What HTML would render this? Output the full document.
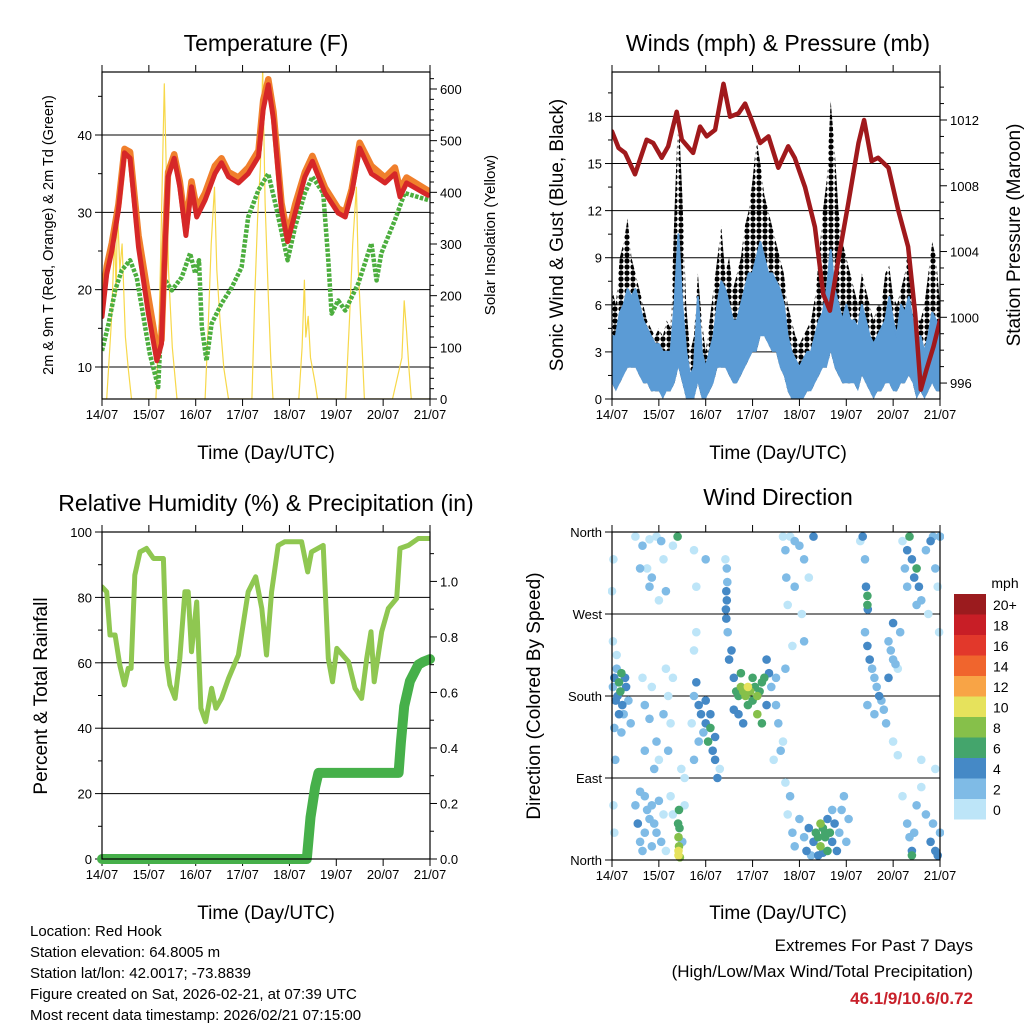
<!DOCTYPE html>
<html><head><meta charset="utf-8"><title>Weather station charts</title>
<style>
html,body{margin:0;padding:0;background:#fff;}
svg{display:block;font-family:"Liberation Sans",Arial,sans-serif;}
</style></head>
<body>
<svg id="c" width="1024" height="1024" viewBox="0 0 1024 1024" xmlns="http://www.w3.org/2000/svg">
<defs>
<clipPath id="cp1"><rect x="102" y="72" width="328" height="327"/></clipPath>
<clipPath id="cp2"><rect x="612" y="72" width="328" height="327"/></clipPath>
<clipPath id="cp3"><rect x="102" y="532" width="328" height="327"/></clipPath>
<clipPath id="cp4"><rect x="608" y="528" width="336" height="336"/></clipPath>
<pattern id="gustdots" x="0" y="0" width="6" height="6" patternUnits="userSpaceOnUse">
<circle cx="3" cy="3" r="2.6" fill="#000"/>
</pattern>
</defs>
<rect x="0" y="0" width="1024" height="1024" fill="#fff"/>
<text x="266" y="51" font-size="23" text-anchor="middle">Temperature (F)</text>
<text x="778" y="51" font-size="23" text-anchor="middle">Winds (mph) &amp; Pressure (mb)</text>
<text x="266" y="511" font-size="23" text-anchor="middle">Relative Humidity (%) &amp; Precipitation (in)</text>
<text x="778" y="505" font-size="23" text-anchor="middle">Wind Direction</text>
<text x="266" y="459" font-size="19" text-anchor="middle">Time (Day/UTC)</text>
<text x="778" y="459" font-size="19" text-anchor="middle">Time (Day/UTC)</text>
<text x="266" y="919" font-size="19" text-anchor="middle">Time (Day/UTC)</text>
<text x="778" y="919" font-size="19" text-anchor="middle">Time (Day/UTC)</text>
<text transform="translate(53,235) rotate(-90)" font-size="14.5" text-anchor="middle">2m &amp; 9m T (Red, Orange) &amp; 2m Td (Green)</text>
<text transform="translate(495,235) rotate(-90)" font-size="15" text-anchor="middle">Solar Insolation (Yellow)</text>
<text transform="translate(563,235) rotate(-90)" font-size="19" text-anchor="middle">Sonic Wind &amp; Gust (Blue, Black)</text>
<text transform="translate(1020,235) rotate(-90)" font-size="19" text-anchor="middle">Station Pressure (Maroon)</text>
<text transform="translate(47,696) rotate(-90)" font-size="19" text-anchor="middle">Percent &amp; Total Rainfall</text>
<text transform="translate(540,696) rotate(-90)" font-size="19" text-anchor="middle">Direction (Colored By Speed)</text>
<g font-size="15">
<text x="30" y="936">Location: Red Hook</text>
<text x="30" y="957">Station elevation: 64.8005 m</text>
<text x="30" y="978">Station lat/lon: 42.0017; -73.8839</text>
<text x="30" y="999">Figure created on Sat, 2026-02-21, at 07:39 UTC</text>
<text x="30" y="1020">Most recent data timestamp: 2026/02/21 07:15:00</text>
</g>
<text x="973" y="951" font-size="17" text-anchor="end">Extremes For Past 7 Days</text>
<text x="973" y="977" font-size="17" text-anchor="end">(High/Low/Max Wind/Total Precipitation)</text>
<text x="973" y="1004" font-size="17" font-weight="bold" fill="#c8202a" text-anchor="end">46.1/9/10.6/0.72</text>
<text x="1005" y="588" font-size="14" text-anchor="middle">mph</text>
</svg>
<script>
// ---------- data ----------
const dayLabels = ["14/07","15/07","16/07","17/07","18/07","19/07","20/07","21/07"];
const tempTime = [0,0.1,0.21,0.35,0.48,0.6,0.78,0.99,1.17,1.27,1.35,1.41,1.54,1.66,1.79,1.91,2.02,2.2,2.41,2.55,2.7,2.91,3.12,3.34,3.44,3.55,3.66,3.83,3.96,4.12,4.33,4.49,4.76,5.04,5.19,5.33,5.5,5.75,6.04,6.25,6.36,6.5,6.96];
const temp2m = [16.5,22,25,30.3,37.7,37,25.5,16.9,10.8,13,26,34.6,37,33.3,27,33.3,29.4,31.6,35,36.4,34.6,33.8,35,37.2,43.3,46.5,42,30.3,26.2,29.9,34.6,36.6,32.5,29.9,29.4,32.5,38.3,35,33.8,35,32,33.8,32.2];
const temp9m = [18,23,26,31,38.2,37.8,27,19,12.5,13.5,27,35.2,37.5,34,28,34,30.5,32.5,36,37,35.2,34.5,35.8,38,44.5,47.2,43,31.2,27,31,35.2,37.3,33.2,30.5,30,33,39,36,34.5,35.8,33,34.5,32.8];
const dewTime = [0,0.14,0.28,0.42,0.6,0.74,0.92,1.02,1.2,1.31,1.49,1.7,1.88,1.99,2.07,2.13,2.23,2.34,2.55,2.77,2.98,3.12,3.34,3.55,3.73,3.96,4.12,4.33,4.49,4.72,4.83,4.9,5.04,5.19,5.47,5.75,5.86,5.96,6.25,6.46,6.96];
const dewPoint = [12.1,15.6,19.9,22.5,23.8,21.6,15.2,11.7,7.4,21.6,19.9,21.6,24.7,22.1,23.8,15.2,10.8,15.6,18.2,20.3,22.9,29.4,32.9,35,30.3,23.8,28.1,32.5,34.6,32.5,23.8,16.9,18.6,17.3,20.8,26,21.2,24.7,29,32.5,31.6];
const solarTime = [0,0.1,0.2,0.27,0.3,0.33,0.38,0.43,0.5,0.56,0.63,1.15,1.22,1.28,1.33,1.37,1.42,1.5,1.6,2.2,2.27,2.33,2.4,2.45,2.52,2.6,2.7,3.2,3.26,3.32,3.38,3.43,3.48,3.55,3.6,3.65,4.2,4.27,4.32,4.35,4.4,4.45,4.55,4.6,5.2,5.28,5.35,5.43,5.47,5.55,5.6,6.2,6.3,6.4,6.45,6.5,6.55,6.6,7];
const solarValue = [0,0,150,320,200,370,250,300,120,60,0,0,150,400,610,450,250,100,0,0,150,300,410,250,150,60,0,0,200,350,450,640,380,200,80,0,0,100,230,120,160,80,30,0,0,150,300,410,250,100,0,0,40,80,190,130,60,0,0];
const pressTime = [0,0.14,0.28,0.49,0.74,0.88,1.06,1.2,1.38,1.49,1.73,1.88,2.02,2.2,2.38,2.52,2.7,2.84,2.98,3.16,3.34,3.55,3.76,3.9,4.12,4.33,4.51,4.65,4.83,5.04,5.26,5.38,5.54,5.68,5.9,6.11,6.32,6.47,6.59,6.71,6.86,7];
const pressValue = [1011.3,1010.3,1010,1008.7,1010.8,1010.6,1009.7,1010.4,1012.5,1010.8,1010,1011.6,1011,1011.4,1014.2,1012.2,1012.4,1013,1012,1010.6,1011,1009.1,1010.4,1009.7,1007.9,1005.5,1001.4,1000.4,1003.5,1006.9,1010.6,1012,1009.5,1009.7,1009.1,1006.5,1004.3,1000.2,995.6,996.8,998.2,999.8];
const windStepDays = 1/12;
const windMax = [4,4,5.5,6,7,6.5,7,6,5,4.5,4,3.5, 3.5,3,3,3,6,10.5,6,3,1.5,2,6.5,3, 2,3,4,6,7.5,7,6,5,5,6,7,8, 8,9,10,9,8,8,7.5,7,6,4,3,2.5, 2,2.5,3,3,4,5,5.5,7,9.5,7,6,5, 6,5,5,4.5,6,5,4,3.5,4,4.5,5,6.5, 5,4,6,5.5,6.5,5,3,4,3,4,5.5,5,4];
const windMin = [1,0.5,1,1.5,2,2,2,1.5,1,1,0.5,0.5, 0.5,0,0.5,0.5,1,2,1,0,0,0,1,0, 0,0.5,1,2,2,2,1.5,1,1,1.5,2,2.5, 3,3,4,4,3.5,3,3,2,1.5,0.5,0,0, 0,0,0.5,0.5,1,1.5,2,2,3,2,1.5,1, 1,1,1,0.5,1.5,1,0.5,0,0.5,0.5,1,1, 0.5,0.5,1,1,1.5,1,0,0.5,0,0.5,1,0.5,0.5];
const gustMax = [7,6,9,10,11.5,9,8,7,6,5,4.5,4, 4.5,4,5,4.5,12,18.5,13,6,3,4,8,5, 3,5,7,9,11,8,9,7,8,9,11,12, 14,16.5,15,13,12,11,10,9,8,6,5,4, 3.5,4,4.5,5,6.5,9,12,14,19,16,12,10, 9,8,7,6,8,7,6,5,6,6,8,8.5, 6.5,6,7,8,10,8,5,5,6,8,10,9,6];
const rhTime = [0,0.1,0.17,0.28,0.38,0.48,0.56,0.62,0.7,0.81,0.95,1.1,1.31,1.38,1.45,1.56,1.66,1.77,1.84,1.91,2.02,2.11,2.21,2.34,2.43,2.55,2.7,2.91,3.12,3.28,3.41,3.51,3.62,3.76,3.9,4.26,4.39,4.47,4.72,4.83,4.92,5.01,5.26,5.4,5.54,5.65,5.74,5.81,5.97,6.11,6.29,6.36,6.54,6.75,7];
const rhValue = [83.2,81.7,68.5,68.5,59.3,53.2,58.3,58.3,86.8,93.9,95,91.9,91.9,60.3,53.2,49.1,61.3,81.7,81.7,63.4,78.6,46.1,42,52.2,46.1,49.1,55.2,62.4,81.7,86.3,76.6,62.4,81.7,95.9,97,97,87.8,93.9,95.9,61.3,54.2,64.4,60.3,52.2,49.1,61.3,69.5,54.2,69.5,76.6,79.7,95,95.9,98,98];
const rainTime = [0,4.37,4.45,4.55,4.62,6.33,6.38,6.45,6.57,6.75,6.85,7];
const rainTotal = [0,0,0.15,0.26,0.31,0.31,0.42,0.55,0.64,0.7,0.71,0.72];
const dirTime = [
0.02,0.05,0.08,0.1,0.12,0.15,0.18,0.2,0.22,0.25,0.3,0.35,0.4,0.05,0.1,0.15,0.2,0.28,0.02,0.03,0.0,0.07,0.03,0.05,
0.5,0.65,0.8,0.95,1.05,1.3,0.8,0.75,0.85,1.1,1.15,0.6,1.0,
0.65,0.7,0.8,0.85,0.95,0.7,1.0,1.2,1.25,1.3,1.1,1.2,0.9,1.15,
0.5,0.55,0.6,0.65,0.7,0.75,0.8,0.85,0.9,0.95,1.0,1.05,1.1,1.15,0.6,0.7,0.85,1.25,1.3,
1.42,1.43,1.42,1.44,1.41,1.43,1.45,1.42,1.4,1.5,1.55,1.55,1.48,
1.7,1.75,1.8,1.85,1.9,1.95,2.0,2.05,2.1,2.15,2.2,2.25,1.75,1.8,1.75,1.85,2.0,2.1,2.2,2.3,1.8,1.75,2.0,
2.43,2.45,2.44,2.46,2.45,2.44,2.47,2.42,
2.5,2.55,2.6,2.65,2.7,2.75,2.8,2.85,2.9,2.95,3.0,3.05,3.1,3.15,3.2,3.25,3.3,3.35,2.7,2.8,2.9,3.0,3.1,3.2,2.6,2.75,3.3,3.4,3.5,3.55,3.6,3.45,3.65,3.5,3.7,
3.65,3.7,3.72,3.8,3.9,4.0,4.1,4.2,3.9,4.05,3.75,4.3,4.1,3.85,
3.7,3.75,3.8,3.85,3.9,4.0,4.1,4.15,4.2,4.3,4.35,4.4,4.45,4.5,4.55,4.6,4.65,4.7,4.75,4.8,4.85,4.9,4.95,5.0,5.05,4.25,4.4,4.5,4.6,4.7,4.45,4.55,
5.4,5.42,5.45,5.45,5.46,5.3,5.35,
5.4,5.45,5.5,5.55,5.6,5.65,5.7,5.75,5.8,5.85,5.9,5.95,6.0,6.05,6.1,6.15,6.0,5.9,5.6,6.0,6.1,5.45,
6.2,6.25,6.3,6.35,6.4,6.45,6.5,6.55,6.6,6.7,6.8,6.85,6.9,6.95,7.0,6.3,6.5,6.75,6.98,
6.2,6.3,6.35,6.4,6.45,6.5,6.6,6.7,6.8,6.85,6.9,6.95,7.0,6.6,6.9,6.4];
const dirDegrees = [
190,200,175,210,180,195,185,205,170,160,190,175,150,145,225,160,140,200,240,330,295,110,60,30,
355,345,352,355,350,345,300,320,310,330,295,320,285,
200,170,155,190,130,120,110,180,150,200,160,120,100,210,
60,40,20,10,70,55,45,60,40,30,65,20,50,10,75,30,15,70,50,
5,15,25,35,40,55,3,10,355,20,60,90,100,
150,180,195,170,160,140,150,130,145,120,110,90,230,250,110,130,175,160,135,100,300,340,330,
275,285,295,305,320,265,250,330,
220,230,200,185,180,190,185,180,190,185,175,190,180,185,195,200,170,205,160,150,170,200,160,150,165,205,220,190,170,150,120,110,130,200,210,
355,340,310,355,350,345,330,310,300,270,280,355,240,235,
85,50,70,30,15,45,25,10,35,20,30,25,15,35,25,10,30,20,40,10,30,55,70,20,45,5,5,8,45,55,40,30,
330,300,290,280,275,350,355,
250,235,220,210,200,190,180,175,165,150,240,230,220,215,210,250,260,200,160,130,115,170,
350,320,340,355,330,310,320,300,285,340,350,355,320,300,355,300,280,270,250,
70,40,25,10,30,60,80,50,20,40,10,5,30,110,100,5];
const dirSpeed = [
3,4,4,3,5,6,7,6,4,3,4,3,2,3,1,4,3,5,1,1,1,2,1,1,
1,2,1,1,2,1,2,1,2,1,2,3,1,
1,2,2,1,2,2,1,1,1,1,2,2,3,1,
3,4,3,2,2,2,2,2,2,3,2,2,1,1,2,2,3,1,1,
10,9,8,7,6,6,8,10,6,2,1,1,1,
1,3,4,4,4,3,5,6,6,4,4,4,1,1,2,3,4,4,4,1,1,1,2,
4,4,4,3,3,4,3,1,
4,4,4,6,6,8,9,8,10,8,6,7,8,6,6,6,4,4,4,4,6,6,8,6,4,6,4,3,2,2,2,1,1,2,2,
1,2,2,1,2,3,2,1,2,1,1,4,2,1,
1,1,2,2,2,2,3,4,4,4,6,7,8,7,6,6,6,5,4,4,3,2,2,2,2,3,4,5,4,3,8,7,
2,4,6,6,4,1,4,
2,4,4,3,2,3,4,3,2,2,3,2,3,2,1,2,4,4,2,1,1,2,
1,2,4,6,4,4,6,4,2,3,4,3,2,1,2,3,2,1,1,
1,2,3,4,3,2,1,2,4,3,4,4,2,1,1,6];
const legendLabels = ["20+","18","16","14","12","10","8","6","4","2","0"];
const legendColors = ["#9b1b1e","#c81e26","#e2382b","#f0652d","#f8a446","#e6e25c","#86c04a","#44a56c","#4589c6","#7fbbe6","#bde5f8"];

// ---------- helpers ----------
const NS = "http://www.w3.org/2000/svg";
const svg = document.getElementById("c");
function mk(tag, parent){ const e = document.createElementNS(NS, tag); parent.appendChild(e); return e; }
function axis(p0,p1,v0,v1){ return v => p0 + (v - v0) / (v1 - v0) * (p1 - p0); }
function pts(xs, ys, fx, fy){ let s=""; const n=Math.min(xs.length, ys.length); for(let i=0;i<n;i++){ s += fx(xs[i]).toFixed(1)+","+fy(ys[i]).toFixed(1)+" "; } return s; }
function polyline(parent, xs, ys, fx, fy, color, width, name){
  const p = mk("polyline", parent);
  p.setAttribute("points", pts(xs, ys, fx, fy));
  p.setAttribute("fill", "none"); p.setAttribute("stroke", color); p.setAttribute("stroke-width", width);
  p.setAttribute("stroke-linejoin", "round"); p.setAttribute("stroke-linecap", "round");
  
  
  return p;
}
function band(parent, xs, lo, hi, fx, fy, fill, name){
  const n = Math.min(xs.length, lo.length, hi.length);
  let s = "";
  for(let i=0;i<n;i++) s += fx(xs[i]).toFixed(1)+","+fy(hi[i]).toFixed(1)+" ";
  for(let i=n-1;i>=0;i--) s += fx(xs[i]).toFixed(1)+","+fy(lo[i]).toFixed(1)+" ";
  const p = mk("polygon", parent);
  p.setAttribute("points", s); p.setAttribute("fill", fill);
  
  
  return p;
}
function line(parent,x1,y1,x2,y2,w){ const l = mk("line", parent); l.setAttribute("x1",x1); l.setAttribute("y1",y1); l.setAttribute("x2",x2); l.setAttribute("y2",y2); l.setAttribute("stroke","#000"); l.setAttribute("stroke-width",w||1); return l; }
function text(parent,x,y,str,size,anchor){ const t = mk("text", parent); t.setAttribute("x",x); t.setAttribute("y",y); t.setAttribute("font-size",size); t.setAttribute("text-anchor",anchor||"start"); t.textContent = str; return t; }

function panelFrame(name, x0,x1,y0,y1, fx){
  const g = mk("g", svg);
  
  
  for(let d=0; d<dayLabels.length; d++){
    const x = fx(d);
    const tb = line(g, x, y1, x, y1+7, 1);
    
    
    const tt = line(g, x, y0, x, y0-7, 1);
    
    
    const lb = text(g, x, y1+20, dayLabels[d], 13, "middle");
    
    
  }
  return g;
}
function frameRect(name,x0,x1,y0,y1){
  const r = mk("rect", svg);
  r.setAttribute("x",x0); r.setAttribute("y",y0); r.setAttribute("width",x1-x0); r.setAttribute("height",y1-y0);
  r.setAttribute("fill","none"); r.setAttribute("stroke","#000"); r.setAttribute("stroke-width","1.2");
  
  
}
function yAxis(g, side, xEdge, fy, ticks, labels, minors, gridX0, gridX1, grid){
  const dir = side === "left" ? -1 : 1;
  for(let i=0;i<ticks.length;i++){
    const y = fy(ticks[i]);
    const t = line(g, xEdge, y, xEdge + dir*7, y, 1);
    
    
    const lb = text(g, xEdge + dir*10, y+5, labels[i], 13, side==="left"?"end":"start");
    
    
    if(grid && y > 74 && Math.abs(y-532) > 2 && Math.abs(y-859) > 2 && Math.abs(y-399) > 2){
      const gl = line(g, gridX0, y, gridX1, y, 1);
      
      
    }
  }
  for(const m of minors){
    const y = fy(m);
    const t = line(g, xEdge, y, xEdge + dir*4, y, 1);
    
    
  }
}

// ---------- Panel 1: temperature ----------
const fx1 = axis(102, 430, 0, 7);
const fT = axis(399, 72, 5.862, 48.147);
const fSol = axis(399, 72, 0, 632.9);
const g1 = panelFrame("temperature", 102,430,72,399, fx1);
yAxis(g1, "left", 102, fT, [10,20,30,40], ["10","20","30","40"], [15,25,35,45], 102, 430, true);
yAxis(g1, "right", 430, fSol, [0,100,200,300,400,500,600], ["0","100","200","300","400","500","600"], [20,40,60,80,120,140,160,180,220,240,260,280,320,340,360,380,420,440,460,480,520,540,560,580,620], 0,0,false);
const s1 = mk("g", svg); s1.setAttribute("clip-path","url(#cp1)");


polyline(s1, solarTime, solarValue, fx1, fSol, "#f7d84a", 1.2, "solar-insolation-line");
const dl = polyline(s1, dewTime, dewPoint, fx1, fT, "#4cae3e", 4.5, "dewpoint-line");
dl.setAttribute("stroke-dasharray","3.5 1.5"); dl.setAttribute("stroke-linecap","butt");
polyline(s1, tempTime, temp9m, fx1, fT, "#f07f2c", 6.5, "temp-9m-line");
polyline(s1, tempTime, temp2m, fx1, fT, "#d62728", 5, "temp-2m-line");
frameRect("temperature",102,430,72,399);

// ---------- Panel 2: winds ----------
const fx2 = axis(612, 940, 0, 7);
const fW = axis(399, 72, 0, 20.83);
const fP = axis(399, 72, 995.03, 1014.92);
const g2 = panelFrame("winds", 612,940,72,399, fx2);
yAxis(g2, "left", 612, fW, [0,3,6,9,12,15,18], ["0","3","6","9","12","15","18"], [1.5,4.5,7.5,10.5,13.5,16.5,19.5], 612, 940, true);
yAxis(g2, "right", 940, fP, [996,1000,1004,1008,1012], ["996","1000","1004","1008","1012"], [997,998,999,1001,1002,1003,1005,1006,1007,1009,1010,1011,1013,1014], 0,0,false);
const s2 = mk("g", svg); s2.setAttribute("clip-path","url(#cp2)");


const windTime = windMax.map((v,i) => i*windStepDays);
band(s2, windTime, windMin, gustMax, fx2, fW, "url(#gustdots)", "gust-band");
band(s2, windTime, windMin, windMax, fx2, fW, "#5b9bd5", "sonic-wind-band");
polyline(s2, windTime, windMax, fx2, fW, "#5b9bd5", 2, "sonic-wind-peak-line");
polyline(s2, pressTime, pressValue, fx2, fP, "#a0191c", 4.5, "pressure-line");
frameRect("winds",612,940,72,399);

// ---------- Panel 3: humidity ----------
const fx3 = axis(102, 430, 0, 7);
const fRH = axis(859, 532, 0, 100);
const fRain = axis(859, 532, 0, 1.178);
const g3 = panelFrame("humidity", 102,430,532,859, fx3);
yAxis(g3, "left", 102, fRH, [0,20,40,60,80,100], ["0","20","40","60","80","100"], [10,30,50,70,90], 102, 430, true);
yAxis(g3, "right", 430, fRain, [0,0.2,0.4,0.6,0.8,1.0], ["0.0","0.2","0.4","0.6","0.8","1.0"], [0.1,0.3,0.5,0.7,0.9,1.1], 0,0,false);
const s3 = mk("g", svg); s3.setAttribute("clip-path","url(#cp3)");


polyline(s3, rhTime, rhValue, fx3, fRH, "#8fc751", 5, "relative-humidity-line");
const s3b = mk("g", svg);


polyline(s3b, rainTime, rainTotal, fx3, fRain, "#46b04a", 10, "total-rainfall-line");
frameRect("humidity",102,430,532,859);

// ---------- Panel 4: wind direction ----------
const fx4 = axis(612, 940, 0, 7);
const fD = axis(860, 532, 0, 360);
const g4 = panelFrame("wind-direction", 612,940,532,860, fx4);
yAxis(g4, "left", 612, fD, [0,90,180,270,360], ["North","East","South","West","North"], [], 612, 940, true);
const s4 = mk("g", svg); s4.setAttribute("clip-path","url(#cp4)");


function speedColor(s){ const idx = Math.min(10, Math.floor(s/2)); return legendColors[10-idx]; }
const nDir = Math.min(dirTime.length, dirDegrees.length, dirSpeed.length);
const order = [...Array(nDir).keys()].sort((a,b)=>dirSpeed[a]-dirSpeed[b]);
for(const i of order){
  const c = mk("circle", s4);
  c.setAttribute("cx", fx4(dirTime[i]).toFixed(1)); c.setAttribute("cy", fD(dirDegrees[i]).toFixed(1)); c.setAttribute("r", 4.3);
  c.setAttribute("fill", speedColor(dirSpeed[i]));
  
  
}
frameRect("wind-direction",612,940,532,860);

// ---------- speed legend ----------
const lg = mk("g", svg);


for(let i=0;i<legendLabels.length;i++){
  const y = 594 + i*20.5;
  const r = mk("rect", lg);
  r.setAttribute("x", 954); r.setAttribute("y", y); r.setAttribute("width", 32); r.setAttribute("height", 20.5);
  r.setAttribute("fill", legendColors[i]);
  
  
  const t = text(lg, 993, y+16, legendLabels[i], 14, "start");
  
  
}
</script>
</body></html>
